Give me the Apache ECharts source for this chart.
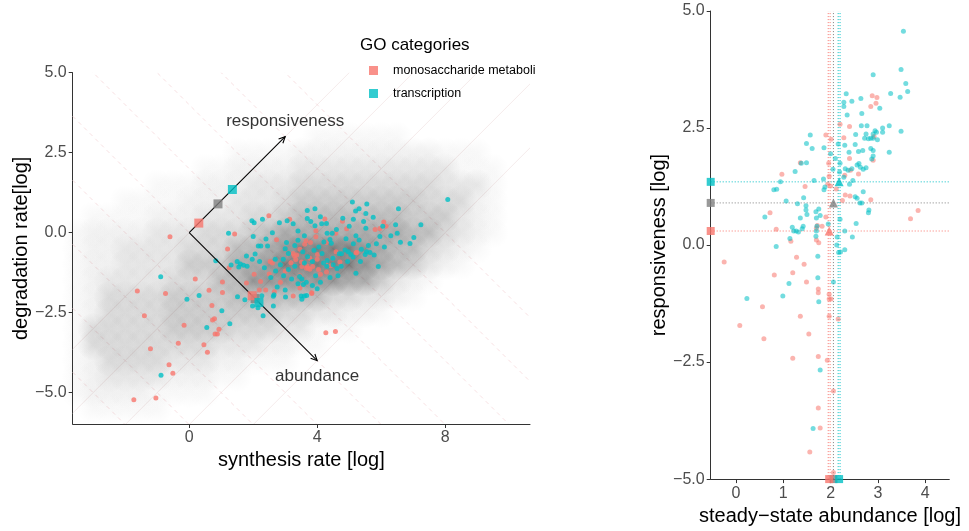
<!DOCTYPE html>
<html>
<head>
<meta charset="utf-8">
<script src="https://cdn.jsdelivr.net/npm/echarts@6/dist/echarts.min.js"></script>
<style>
html, body { margin: 0; padding: 0; background: #fff; }
#main { width: 969px; height: 531px; }
</style>
</head>
<body>
<div id="main"></div>
<script>
var RED = '#F8766D', GREY = '#7F7F7F', CYAN = '#00BFC4';
var FONT = '"Liberation Sans", Arial, sans-serif';

// grey background cloud: density levels (0-9) read on a 0.5 grid
var cloudX = [-3.5,-3,-2.5,-2,-1.5,-1,-0.5,0,0.5,1,1.5,2,2.5,3,3.5,4,4.5,5,5.5,6,6.5,7,7.5,8,8.5,9,9.5,10];
var cloudY = [3,2.5,2,1.5,1,0.5,0,-0.5,-1,-1.5,-2,-2.5,-3,-3.5,-4,-4.5,-5,-5.5];
var cloudRows = [
  '0000000000000001111110000000',
  '0000000000111122222222211100',
  '0000000011222233333333331110',
  '0000011122233344444444433310',
  '0001111222333455555555444210',
  '0111122233344566666665553210',
  '1222233344456777777776643210',
  '1223333444667899998766432100',
  '1223333555778999998765321000',
  '1233334446688888877532100000',
  '1244445555666666443321000000',
  '1244445555555443322100000000',
  '1444445555444331110000000000',
  '1444444443332211000000000000',
  '1244443332211100000000000000',
  '1233332221100000000000000000',
  '1222211110000000000000000000',
  '0111110000000000000000000000'
];
var levelAlpha = [0, 0.04, 0.08, 0.14, 0.21, 0.29, 0.38, 0.49, 0.61, 0.74];

// left panel: synthesis rate vs degradation rate of the two GO categories
var leftRed = [
  [-0.60,-0.13],[-1.62,-1.82],[-1.40,-2.60],[-0.74,-1.90],[0.19,-1.45],[-1.21,-3.63],[-0.34,-3.46],[-0.16,-2.89],
  [-0.63,-4.13],[-0.51,-4.39],[-1.73,-5.22],[-1.04,-5.17],[0.46,-3.50],[0.57,-3.74],[0.73,-2.73],[0.79,-2.69],
  [0.93,-3.02],[0.81,-3.17],[0.88,-3.17],[0.71,-2.28],[0.62,-1.80],[1.04,-1.87],[1.04,-1.54],[1.20,-0.51],
  [1.25,-1.10],[1.42,-0.04],[2.49,0.53],[3.14,0.42],[2.03,-1.30],[2.23,-1.53],[1.79,-1.57],[2.19,-1.79],
  [2.66,-1.85],[2.50,-1.29],[2.39,-1.79],[2.73,-0.22],[3.46,-0.52],[3.61,-0.36],[3.79,-0.31],[3.65,-0.25],
  [3.96,0.06],[4.01,-0.68],[4.29,-0.31],[4.24,0.43],[4.79,0.36],[4.92,0.12],[5.22,-0.63],[6.08,0.33],
  [6.15,0.20],[5.81,0.10],[5.96,0.13],[3.18,-0.94],[3.29,-0.73],[3.51,-0.92],[3.68,-1.04],[3.72,-1.11],
  [3.46,-1.35],[3.83,-1.88],[4.04,-1.15],[4.26,-0.94],[4.29,-1.23],[4.42,-1.03],[4.71,-0.92],[4.59,-0.60],
  [4.27,-3.13],[4.57,-3.09],[2.53,-0.90],[4.58,-0.02],[3.36,-0.70],[3.25,-0.65],[3.33,-0.84],[3.86,-1.06],
  [3.77,-1.14],[3.46,-1.73],[3.83,-1.90],[3.25,-1.98],[5.23,-0.62],[3.77,-0.80],[4.00,-0.83],[3.52,-1.06],
  [3.66,-1.11],[2.85,-1.55],[3.00,-1.20],[4.10,-1.30],[2.60,-0.95],[3.96,-0.13]
];
var leftCyan = [
  [8.08,1.04],[5.10,0.96],[5.55,0.90],[5.31,0.75],[5.20,0.68],[6.54,0.75],[3.69,0.69],[3.93,0.75],
  [5.52,0.60],[5.75,0.48],[3.69,0.44],[3.25,0.28],[5.13,0.42],[3.93,0.22],[4.14,0.28],[4.29,0.29],
  [7.24,0.25],[5.52,0.14],[6.50,-0.02],[4.31,-0.02],[4.47,-0.02],[5.96,-0.12],[5.21,-0.10],[7.02,-0.15],
  [6.60,-0.30],[6.90,-0.34],[4.40,-0.21],[4.44,-0.33],[4.90,-0.19],[5.31,-0.23],[5.13,-0.35],[3.40,-0.24],
  [4.21,-0.29],[5.54,-0.60],[5.65,-0.62],[5.50,-0.68],[5.78,-0.70],[5.38,-0.52],[4.87,-0.54],[4.97,-0.60],
  [5.05,-0.68],[5.12,-0.76],[4.69,-0.66],[4.76,-0.66],[4.49,-0.80],[4.31,-0.87],[5.91,-1.06],[5.21,-1.27],
  [4.20,-0.95],[4.30,-1.05],[4.50,-1.00],[4.62,-1.12],[4.75,-1.05],[3.45,-1.37],[3.52,-1.45],[3.40,-1.60],
  [3.57,-1.62],[3.66,-1.55],[3.50,-1.98],[3.60,-1.98],[1.96,0.37],[2.03,0.31],[2.29,0.42],[2.82,0.31],
  [3.06,0.37],[1.23,-0.02],[2.00,-0.12],[2.16,-0.42],[2.24,-0.42],[2.45,-0.42],[3.04,-0.31],[1.79,-0.73],
  [2.06,-0.67],[1.97,-0.83],[2.69,-0.83],[2.94,-0.83],[0.83,-0.88],[1.31,-1.01],[1.50,-0.90],[1.60,-0.98],
  [1.70,-1.02],[1.81,-1.05],[1.55,-1.07],[-0.89,-1.38],[1.51,-2.00],[-0.07,-2.08],[0.31,-1.96],[2.27,-1.97],
  [2.63,-1.99],[3.01,-2.01],[-0.88,-4.46],[0.55,-2.96],[1.27,-2.85],[1.02,-2.44],[1.74,-2.10],[1.98,-2.29],
  [2.15,-2.35],[2.31,-2.60],[2.63,-2.29],[2.65,-1.94],[3.00,-0.50],[3.10,-0.65],[3.30,-0.40],[3.55,-0.60],
  [3.70,-0.75],[3.90,-0.55],[4.05,-0.45],[4.15,-0.65],[3.85,-0.90],[3.60,-0.95],[3.30,-1.05],[3.10,-1.15],
  [2.85,-1.00],[2.70,-1.20],[2.55,-1.40],[2.35,-1.10],[2.20,-0.90],[2.95,-1.35],[3.20,-1.45],[2.75,-1.70],
  [3.95,-1.35],[4.10,-1.55],[4.40,-1.40],[4.65,-1.35],[3.85,-1.65],[4.00,-1.75],[4.95,-0.90],[5.35,-0.90],
  [5.60,-0.40],[5.85,-0.35],[6.10,-0.45],[6.30,-0.10],[6.05,0.20],[4.60,0.10],[4.80,0.45],[5.00,0.20],
  [4.10,0.50],[3.40,0.05],[3.60,-0.10],[2.60,0.00],[2.40,-0.20],[5.45,0.35],[6.45,0.25],[3.80,0.35],
  [3.67,-1.96],[3.00,-1.79],[3.52,-2.08]
];

// right panel: steady-state abundance vs responsiveness
var rightRed = [
  [-0.25,-0.36],[0.72,0.69],[0.85,0.34],[0.97,1.51],[1.16,0.08],[1.46,1.25],[1.36,1.76],[1.28,-0.26],
  [1.44,-0.41],[1.70,0.36],[1.72,0.42],[1.70,0.11],[1.90,2.35],[1.96,1.75],[1.97,1.47],[1.94,1.30],
  [2.00,1.26],[2.01,2.26],[2.20,2.58],[2.40,2.53],[2.28,2.29],[2.40,1.85],[2.30,1.49],[2.42,1.60],
  [2.31,1.07],[2.41,1.05],[2.59,1.52],[2.85,0.97],[2.90,1.81],[2.88,3.19],[2.98,3.15],[2.96,3.03],
  [2.85,2.96],[2.92,2.32],[3.69,0.56],[3.85,0.74],[1.20,-0.59],[0.81,-0.64],[1.49,-0.79],[1.74,-0.94],
  [1.74,-1.02],[1.97,-1.05],[2.01,-1.15],[1.97,-1.15],[0.56,-1.32],[1.36,-1.52],[1.97,-1.52],[2.16,-1.58],
  [0.08,-1.72],[1.54,-1.90],[0.59,-2.00],[1.20,-2.42],[1.74,-2.38],[1.93,-2.46],[2.06,-3.12],[1.74,-3.48],
  [1.78,-3.91],[1.56,-4.42],[2.06,-4.86],[1.82,0.40],[1.90,0.60],[2.12,1.20],[2.25,0.95],[1.75,0.05]
];
var rightCyan = [
  [3.54,4.57],[3.49,3.75],[3.59,3.45],[3.63,3.28],[3.47,3.16],[3.27,3.24],[2.90,3.64],[3.04,2.92],
  [2.64,3.13],[2.45,3.07],[2.33,3.23],[2.28,3.05],[2.28,2.96],[2.35,2.78],[2.66,2.81],[2.65,2.55],
  [2.77,2.55],[2.94,2.44],[2.97,2.41],[2.90,2.37],[3.10,2.50],[3.10,2.41],[3.24,2.55],[3.49,2.43],
  [2.53,2.36],[2.75,2.37],[2.72,2.28],[2.80,2.27],[2.85,2.28],[2.90,2.28],[2.99,2.25],[2.52,2.15],
  [2.30,2.13],[2.16,2.16],[2.85,2.06],[2.90,2.02],[2.68,2.02],[2.59,2.00],[2.39,1.98],[2.87,1.84],
  [2.90,1.90],[3.24,1.98],[2.60,1.74],[2.56,1.71],[2.63,1.66],[2.75,1.65],[2.69,1.62],[2.37,1.60],
  [2.45,1.63],[2.31,1.63],[2.19,1.56],[1.85,1.41],[1.65,1.38],[1.88,1.24],[1.86,1.18],[2.69,1.14],
  [2.52,1.03],[2.56,1.00],[2.62,0.90],[2.66,0.90],[2.81,0.75],[2.80,0.69],[2.54,0.46],[2.46,0.17],
  [2.14,0.17],[2.30,-0.10],[2.21,-0.15],[2.17,-0.16],[2.13,0.00],[1.73,-0.24],[1.69,0.19],[1.70,0.30],
  [1.71,0.40],[1.70,0.58],[1.69,0.71],[1.78,0.63],[1.75,0.77],[1.36,0.58],[1.50,0.65],[1.48,0.75],
  [1.48,0.84],[1.30,0.88],[1.43,1.01],[1.06,0.94],[1.19,0.38],[1.22,0.30],[1.27,0.30],[1.32,0.28],
  [1.40,0.35],[1.42,0.40],[1.14,0.14],[0.85,-0.03],[0.61,0.60],[0.80,1.18],[0.86,1.19],[0.94,1.35],
  [1.25,1.57],[1.38,1.75],[1.49,1.76],[1.49,2.17],[1.57,2.35],[1.61,2.06],[1.86,2.08],[2.00,1.95],
  [2.10,1.85],[2.20,1.75],[2.05,1.62],[2.28,1.45],[2.40,1.30],[2.47,1.38],[2.20,0.55],[1.95,0.45],
  [2.30,0.30],[1.12,-0.82],[1.73,-0.70],[2.06,-0.79],[0.23,-1.14],[0.99,-1.09],[1.75,-1.21],[1.78,-2.67],
  [1.63,-3.92]
];

// group summaries, order: monosaccharide, all genes (grey), transcription
var groupColors = [RED, GREY, CYAN];
var meanResp = [0.30, 0.90, 1.35];
var meanAbund = [1.97, 2.06, 2.18];
var abundGuides = [[1.95, 1.99], [2.06], [2.16, 2.20]];

// guide lines in the left panel
var isoAbund = [0, -2, -4, -6, -8];                       // solid, y = x + c
var isoResp = [-8, -6, -4, -2, 0, 2, 4, 6, 8];            // dashed, y = d - x
var arrows = [[0, 0, 3, 3], [0, 0, 4, -4]];
var arrowLabels = [[3, 3.48, 'responsiveness'], [4, -4.5, 'abundance']];

// axes
var leftX = [-3.64, 10.65], leftY = [-5.98, 5];
var rightX = [-0.535, 4.51], rightY = [-5, 5];
var leftXTicks = [0, 4, 8], leftYTicks = [-5, -2.5, 0, 2.5, 5];
var rightXTicks = [0, 1, 2, 3, 4], rightYTicks = [-5, -2.5, 0, 2.5, 5];

function fmtDec(v) { return (v < 0 ? '\u2212' : '') + Math.abs(v).toFixed(1); }
function fmtInt(v) { return (v < 0 ? '\u2212' : '') + Math.abs(v); }

var cloudData = [];
cloudRows.forEach(function (row, j) {
  for (var i = 0; i < row.length; i++) {
    var a = levelAlpha[+row[i]];
    if (!a) continue;
    cloudData.push({
      value: [cloudX[i], cloudY[j]],
      itemStyle: { color: { type: 'radial', x: 0.5, y: 0.5, r: 0.5, colorStops: [
        { offset: 0, color: 'rgba(30,30,30,' + a + ')' },
        { offset: 1, color: 'rgba(30,30,30,0)' }
      ] } }
    });
  }
});

// segment endpoints of the guide lines, spanning the left x range
var solidSegs = isoAbund.map(function (c) { return [leftX[0], leftX[0] + c, leftX[1], leftX[1] + c, 0]; });
var dashSegs = isoResp.map(function (d) { return [leftX[0], d - leftX[0], leftX[1], d - leftX[1], 1]; });

function renderGuide(params, api) {
  var p0 = api.coord([api.value(0), api.value(1)]);
  var p1 = api.coord([api.value(2), api.value(3)]);
  var dashed = api.value(4) === 1;
  return {
    type: 'line',
    shape: { x1: p0[0], y1: p0[1], x2: p1[0], y2: p1[1] },
    style: dashed
      ? { stroke: '#f5d8db', lineWidth: 0.8, lineDash: [4, 4] }
      : { stroke: '#f3e6e6', lineWidth: 0.8 }
  };
}

function renderArrow(params, api) {
  var p0 = api.coord([api.value(0), api.value(1)]);
  var p1 = api.coord([api.value(2), api.value(3)]);
  var ang = Math.atan2(p1[1] - p0[1], p1[0] - p0[0]);
  var len = 7, w = Math.PI / 7;
  var h1 = [p1[0] - len * Math.cos(ang - w), p1[1] - len * Math.sin(ang - w)];
  var h2 = [p1[0] - len * Math.cos(ang + w), p1[1] - len * Math.sin(ang + w)];
  return {
    type: 'group',
    children: [
      { type: 'line', shape: { x1: p0[0], y1: p0[1], x2: p1[0], y2: p1[1] }, style: { stroke: '#000', lineWidth: 1.1 } },
      { type: 'polyline', shape: { points: [h1, p1, h2] }, style: { stroke: '#000', fill: null, lineWidth: 1.1 } }
    ]
  };
}

var series = [];

series.push({
  type: 'custom', xAxisIndex: 0, yAxisIndex: 0, silent: true, z: 1, clip: true,
  renderItem: renderGuide, encode: { x: [0, 2], y: [1, 3] },
  data: solidSegs.concat(dashSegs)
});

series.push({
  type: 'scatter', xAxisIndex: 0, yAxisIndex: 0, silent: true, z: 2,
  symbolSize: 32, data: cloudData
});

series.push({
  name: 'monosaccharide metabolism', type: 'scatter', xAxisIndex: 0, yAxisIndex: 0, z: 3,
  symbolSize: 5, itemStyle: { color: RED }, data: leftRed
});
series.push({
  name: 'transcription', type: 'scatter', xAxisIndex: 0, yAxisIndex: 0, z: 3,
  symbolSize: 5, itemStyle: { color: CYAN }, data: leftCyan
});

series.push({
  type: 'custom', xAxisIndex: 0, yAxisIndex: 0, silent: true, z: 4,
  renderItem: renderArrow, encode: { x: [0, 2], y: [1, 3] }, data: arrows
});

series.push({
  type: 'scatter', xAxisIndex: 0, yAxisIndex: 0, silent: true, symbolSize: 0, z: 4,
  data: arrowLabels,
  label: { show: true, position: 'inside', formatter: function (p) { return p.data[2]; },
    fontSize: 17, color: '#000', fontFamily: FONT }
});

// summary squares along the arrows (grey drawn first)
[1, 0, 2].forEach(function (k) {
  series.push({
    type: 'scatter', xAxisIndex: 0, yAxisIndex: 0, silent: true, symbol: 'rect', symbolSize: 9, z: 5,
    itemStyle: { color: groupColors[k] },
    data: [[meanResp[k], meanResp[k]], [meanAbund[k], -meanAbund[k]]]
  });
});

// right panel guides
[1, 0, 2].forEach(function (k) {
  series.push({
    type: 'line', xAxisIndex: 1, yAxisIndex: 1, silent: true, symbol: 'none', z: 1,
    data: [[rightX[0], meanResp[k]], [rightX[1], meanResp[k]]],
    lineStyle: { color: groupColors[k], width: 1, type: [1, 2] }
  });
  abundGuides[k].forEach(function (a) {
    series.push({
      type: 'line', xAxisIndex: 1, yAxisIndex: 1, silent: true, symbol: 'none', z: 1,
      data: [[a, rightY[0]], [a, rightY[1]]],
      lineStyle: { color: groupColors[k], width: 1, type: [1, 2] }
    });
  });
});

series.push({
  name: 'monosaccharide metabolism', type: 'scatter', xAxisIndex: 1, yAxisIndex: 1, z: 3,
  symbolSize: 5, itemStyle: { color: RED, opacity: 0.55 }, data: rightRed
});
series.push({
  name: 'transcription', type: 'scatter', xAxisIndex: 1, yAxisIndex: 1, z: 3,
  symbolSize: 5, itemStyle: { color: CYAN, opacity: 0.55 }, data: rightCyan
});

[1, 0, 2].forEach(function (k) {
  series.push({
    type: 'scatter', xAxisIndex: 1, yAxisIndex: 1, silent: true, symbol: 'triangle', symbolSize: 9, z: 4,
    itemStyle: { color: groupColors[k] }, data: [[meanAbund[k], meanResp[k]]]
  });
  series.push({
    type: 'scatter', xAxisIndex: 1, yAxisIndex: 1, silent: true, symbol: 'rect', symbolSize: 8, z: 5,
    clip: false, itemStyle: { color: groupColors[k] },
    data: [[rightX[0], meanResp[k]], [meanAbund[k], rightY[0]]]
  });
});

function axisCommon(ticks, fmt) {
  return {
    type: 'value',
    splitLine: { show: false },
    axisLine: { show: true, onZero: false, lineStyle: { color: '#333', width: 1 } },
    axisTick: { show: true, customValues: ticks, length: 4, lineStyle: { color: '#333' } },
    axisLabel: { customValues: ticks, formatter: fmt, fontSize: 16, color: '#4D4D4D', fontFamily: FONT, margin: 6 },
    nameLocation: 'middle',
    nameTextStyle: { fontSize: 20, color: '#000', fontFamily: FONT }
  };
}

var xl = axisCommon(leftXTicks, fmtInt);
Object.assign(xl, { gridIndex: 0, min: leftX[0], max: leftX[1], name: 'synthesis rate [log]', nameGap: 24 });
var yl = axisCommon(leftYTicks, fmtDec);
Object.assign(yl, { gridIndex: 0, min: leftY[0], max: leftY[1], name: 'degradation rate[log]', nameGap: 37 });
var xr = axisCommon(rightXTicks, fmtInt);
Object.assign(xr, { gridIndex: 1, min: rightX[0], max: rightX[1], name: 'steady\u2212state abundance [log]', nameGap: 22 });
var yr = axisCommon(rightYTicks, fmtDec);
Object.assign(yr, { gridIndex: 1, min: rightY[0], max: rightY[1], name: 'responsiveness [log]', nameGap: 33 });

var chart = echarts.init(document.getElementById('main'));
chart.setOption({
  animation: false,
  backgroundColor: '#fff',
  textStyle: { fontFamily: FONT },
  title: {
    text: 'GO categories', left: 360, top: 37, padding: 0,
    textStyle: { fontSize: 17, fontWeight: 'normal', color: '#000', fontFamily: FONT }
  },
  legend: {
    data: ['monosaccharide metabolism', 'transcription'],
    orient: 'vertical', left: 369, top: 64, padding: 0,
    icon: 'rect', itemWidth: 9, itemHeight: 9, itemGap: 10,
    textStyle: { fontSize: 12.5, color: '#000', fontFamily: FONT, width: 150,
      overflow: 'truncate', ellipsis: '', padding: [0, 0, 0, 10] }
  },
  grid: [
    { left: 72.7, top: 72.7, width: 457.3, height: 351.3 },
    { left: 710.7, top: 11, width: 238.6, height: 475.7 }
  ],
  xAxis: [xl, xr],
  yAxis: [yl, yr],
  series: series
});
</script>
</body>
</html>
